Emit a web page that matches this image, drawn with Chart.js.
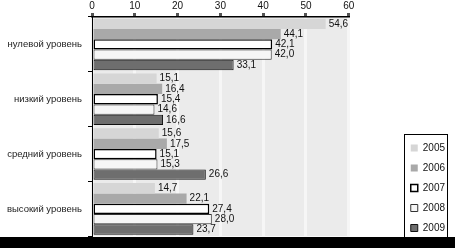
<!DOCTYPE html>
<html>
<head>
<meta charset="utf-8">
<script src="https://cdn.jsdelivr.net/npm/chart.js@4.4.0/dist/chart.umd.min.js"></script>
<style>
  html, body { margin: 0; padding: 0; background: #fff; }
  #wrap { position: relative; width: 455px; height: 248px; }
  #band { position: absolute; left: 0; bottom: 0; width: 455px; height: 11px; background: #000; }
</style>
</head>
<body>
<div id="wrap">
  <canvas id="chartLevels" width="455" height="248"></canvas>
  <div id="band"></div>
</div>
<script>
var categories = ['нулевой уровень', 'низкий уровень', 'средний уровень', 'высокий уровень'];
var years = ['2005', '2006', '2007', '2008', '2009'];
var v2005 = [54.6, 15.1, 15.6, 14.7];
var v2006 = [44.1, 16.4, 17.5, 22.1];
var v2007 = [42.1, 15.4, 15.1, 27.4];
var v2008 = [42.0, 14.6, 15.3, 28.0];
var v2009 = [33.1, 16.6, 26.6, 23.7];
var xTicks = [0, 10, 20, 30, 40, 50, 60];

var fills = ['#d6d6d6', '#a9a9a9', '#ffffff', '#f6f6f6', '#6e6e6e'];
var borders = ['#d6d6d6', '#a9a9a9', '#000000', '#333333', '#111111'];
var bw = [0, 0, 1.5, 1, 1];
var series = [v2005, v2006, v2007, v2008, v2009];

function fmt(v) {
    return v.toFixed(1).replace('.', ',');
}

var plotBg = {
    id: 'plotBg',
    beforeDraw: function (chart) {
        var a = chart.chartArea, ctx = chart.ctx;
        ctx.save();
        ctx.fillStyle = '#ebebeb';
        ctx.fillRect(a.left, a.top, a.right - a.left, a.bottom - a.top);
        ctx.restore();
    }
};

var barLabels = {
    id: 'barLabels',
    afterDatasetsDraw: function (chart) {
        var ctx = chart.ctx;
        ctx.save();
        ctx.font = '10px "Liberation Sans", Arial, sans-serif';
        ctx.fillStyle = '#111';
        ctx.textBaseline = 'middle';
        chart.data.datasets.forEach(function (ds, i) {
            chart.getDatasetMeta(i).data.forEach(function (bar, j) {
                ctx.fillText(fmt(ds.data[j]), bar.x + 3, bar.y);
            });
        });
        ctx.restore();
    }
};

var legendBox = {
    id: 'legendBox',
    afterDraw: function (chart) {
        var boxes = chart.legend.legendHitBoxes;
        if (!boxes || !boxes.length) return;
        var first = boxes[0];
        var ctx = chart.ctx;
        var l = Math.round(first.left) - 6.5;
        var r = Math.round(first.left + first.width) + 2.5;
        ctx.save();
        ctx.strokeStyle = '#000';
        ctx.lineWidth = 1;
        ctx.strokeRect(l, Math.round(first.top) - 8.5, r - l, 110);
        ctx.restore();
    }
};

var datasets = years.map(function (y, i) {
    return {
        label: y,
        data: series[i],
        backgroundColor: fills[i],
        borderColor: borders[i],
        borderWidth: bw[i],
        borderSkipped: false
    };
});

var canvas = document.getElementById('chartLevels');
new Chart(canvas.getContext('2d'), {
    type: 'bar',
    data: { labels: categories, datasets: datasets },
    plugins: [plotBg, barLabels, legendBox],
    options: {
        indexAxis: 'y',
        responsive: false,
        animation: false,
        layout: { padding: { left: 0, right: 0, top: 0, bottom: 5 } },
        datasets: { bar: { categoryPercentage: 0.94, barPercentage: 1 } },
        plugins: {
            tooltip: { enabled: false },
            legend: {
                position: 'right',
                align: 'end',
                labels: {
                    boxWidth: 7,
                    boxHeight: 7,
                    padding: 10,
                    color: '#111',
                    font: { size: 10, family: '"Liberation Sans", Arial, sans-serif' }
                }
            }
        },
        scales: {
            x: {
                position: 'top',
                min: 0,
                max: 60,
                afterBuildTicks: function (s) { s.ticks = xTicks.map(function (v) { return { value: v }; }); },
                afterFit: function (s) { s.height = 17; },
                ticks: { color: '#111', padding: 1, font: { size: 10, family: '"Liberation Sans", Arial, sans-serif' } },
                grid: { color: '#f6f6f6', lineWidth: 3, tickColor: '#555', tickLength: 4 },
                border: { color: '#000', width: 1.5, dash: [] }
            },
            y: {
                afterFit: function (s) { s.width = 92; },
                ticks: { color: '#222', padding: 6, font: { size: 9.5, family: '"Liberation Sans", Arial, sans-serif' } },
                grid: { offset: true, drawOnChartArea: false, tickColor: '#000', tickLength: 4 },
                border: { color: '#000', width: 1 }
            },
            y2: {
                type: 'linear',
                position: 'right',
                display: true,
                ticks: { display: false },
                grid: { display: false },
                border: { display: false },
                afterFit: function (s) { s.width = 52; }
            }
        }
    }
});
</script>
</body>
</html>
